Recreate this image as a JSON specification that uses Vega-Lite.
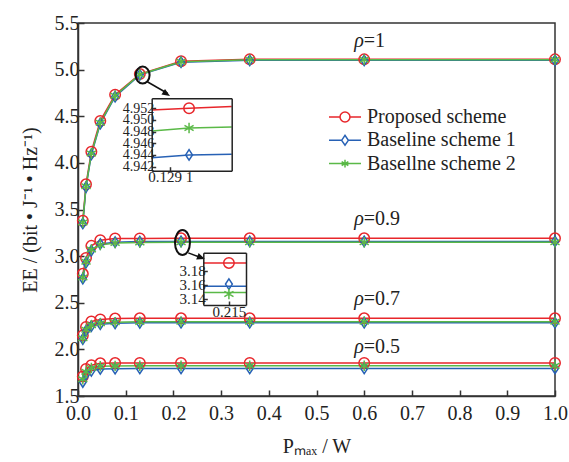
{
  "$schema": "https://vega.github.io/schema/vega-lite/v6.json",
  "width": 477,
  "height": 373,
  "autosize": {"type": "none"},
  "padding": {"left": 78, "top": 23, "right": 14, "bottom": 66},
  "background": "white",
  "config": {
    "font": "Liberation Serif",
    "view": {"stroke": "#333", "strokeWidth": 1.5},
    "axis": {
      "grid": false,
      "labelFont": "Liberation Serif",
      "titleFont": "Liberation Serif",
      "labelColor": "#222",
      "titleColor": "#222",
      "titleFontWeight": "normal",
      "domainColor": "#333",
      "tickColor": "#333",
      "domainWidth": 1.5,
      "tickWidth": 1.5
    }
  },
  "datasets": {
    "curves": [
      {"rho": "1", "s": "Proposed scheme", "x": 0.0101, "y": 3.38},
      {"rho": "1", "s": "Proposed scheme", "x": 0.0168, "y": 3.77},
      {"rho": "1", "s": "Proposed scheme", "x": 0.028, "y": 4.12},
      {"rho": "1", "s": "Proposed scheme", "x": 0.0467, "y": 4.45},
      {"rho": "1", "s": "Proposed scheme", "x": 0.0778, "y": 4.73},
      {"rho": "1", "s": "Proposed scheme", "x": 0.1296, "y": 4.952},
      {"rho": "1", "s": "Proposed scheme", "x": 0.216, "y": 5.09},
      {"rho": "1", "s": "Proposed scheme", "x": 0.36, "y": 5.11},
      {"rho": "1", "s": "Proposed scheme", "x": 0.6, "y": 5.11},
      {"rho": "1", "s": "Proposed scheme", "x": 1, "y": 5.11},
      {"rho": "0.9", "s": "Proposed scheme", "x": 0.0101, "y": 2.81},
      {"rho": "0.9", "s": "Proposed scheme", "x": 0.0168, "y": 2.98},
      {"rho": "0.9", "s": "Proposed scheme", "x": 0.028, "y": 3.11},
      {"rho": "0.9", "s": "Proposed scheme", "x": 0.0467, "y": 3.17},
      {"rho": "0.9", "s": "Proposed scheme", "x": 0.0778, "y": 3.19},
      {"rho": "0.9", "s": "Proposed scheme", "x": 0.1296, "y": 3.19},
      {"rho": "0.9", "s": "Proposed scheme", "x": 0.216, "y": 3.191},
      {"rho": "0.9", "s": "Proposed scheme", "x": 0.36, "y": 3.191},
      {"rho": "0.9", "s": "Proposed scheme", "x": 0.6, "y": 3.191},
      {"rho": "0.9", "s": "Proposed scheme", "x": 1, "y": 3.191},
      {"rho": "0.7", "s": "Proposed scheme", "x": 0.0101, "y": 2.15},
      {"rho": "0.7", "s": "Proposed scheme", "x": 0.0168, "y": 2.24},
      {"rho": "0.7", "s": "Proposed scheme", "x": 0.028, "y": 2.3},
      {"rho": "0.7", "s": "Proposed scheme", "x": 0.0467, "y": 2.32},
      {"rho": "0.7", "s": "Proposed scheme", "x": 0.0778, "y": 2.33},
      {"rho": "0.7", "s": "Proposed scheme", "x": 0.1296, "y": 2.333},
      {"rho": "0.7", "s": "Proposed scheme", "x": 0.216, "y": 2.333},
      {"rho": "0.7", "s": "Proposed scheme", "x": 0.36, "y": 2.333},
      {"rho": "0.7", "s": "Proposed scheme", "x": 0.6, "y": 2.333},
      {"rho": "0.7", "s": "Proposed scheme", "x": 1, "y": 2.333},
      {"rho": "0.5", "s": "Proposed scheme", "x": 0.0101, "y": 1.71},
      {"rho": "0.5", "s": "Proposed scheme", "x": 0.0168, "y": 1.79},
      {"rho": "0.5", "s": "Proposed scheme", "x": 0.028, "y": 1.83},
      {"rho": "0.5", "s": "Proposed scheme", "x": 0.0467, "y": 1.85},
      {"rho": "0.5", "s": "Proposed scheme", "x": 0.0778, "y": 1.853},
      {"rho": "0.5", "s": "Proposed scheme", "x": 0.1296, "y": 1.855},
      {"rho": "0.5", "s": "Proposed scheme", "x": 0.216, "y": 1.855},
      {"rho": "0.5", "s": "Proposed scheme", "x": 0.36, "y": 1.855},
      {"rho": "0.5", "s": "Proposed scheme", "x": 0.6, "y": 1.855},
      {"rho": "0.5", "s": "Proposed scheme", "x": 1, "y": 1.855},
      {"rho": "1", "s": "Baseline scheme 1", "x": 0.0101, "y": 3.35},
      {"rho": "1", "s": "Baseline scheme 1", "x": 0.0168, "y": 3.74},
      {"rho": "1", "s": "Baseline scheme 1", "x": 0.028, "y": 4.09},
      {"rho": "1", "s": "Baseline scheme 1", "x": 0.0467, "y": 4.42},
      {"rho": "1", "s": "Baseline scheme 1", "x": 0.0778, "y": 4.71},
      {"rho": "1", "s": "Baseline scheme 1", "x": 0.1296, "y": 4.944},
      {"rho": "1", "s": "Baseline scheme 1", "x": 0.216, "y": 5.08},
      {"rho": "1", "s": "Baseline scheme 1", "x": 0.36, "y": 5.1},
      {"rho": "1", "s": "Baseline scheme 1", "x": 0.6, "y": 5.1},
      {"rho": "1", "s": "Baseline scheme 1", "x": 1, "y": 5.1},
      {"rho": "0.9", "s": "Baseline scheme 1", "x": 0.0101, "y": 2.76},
      {"rho": "0.9", "s": "Baseline scheme 1", "x": 0.0168, "y": 2.93},
      {"rho": "0.9", "s": "Baseline scheme 1", "x": 0.028, "y": 3.06},
      {"rho": "0.9", "s": "Baseline scheme 1", "x": 0.0467, "y": 3.13},
      {"rho": "0.9", "s": "Baseline scheme 1", "x": 0.0778, "y": 3.15},
      {"rho": "0.9", "s": "Baseline scheme 1", "x": 0.1296, "y": 3.156},
      {"rho": "0.9", "s": "Baseline scheme 1", "x": 0.216, "y": 3.158},
      {"rho": "0.9", "s": "Baseline scheme 1", "x": 0.36, "y": 3.158},
      {"rho": "0.9", "s": "Baseline scheme 1", "x": 0.6, "y": 3.158},
      {"rho": "0.9", "s": "Baseline scheme 1", "x": 1, "y": 3.158},
      {"rho": "0.7", "s": "Baseline scheme 1", "x": 0.0101, "y": 2.11},
      {"rho": "0.7", "s": "Baseline scheme 1", "x": 0.0168, "y": 2.2},
      {"rho": "0.7", "s": "Baseline scheme 1", "x": 0.028, "y": 2.25},
      {"rho": "0.7", "s": "Baseline scheme 1", "x": 0.0467, "y": 2.27},
      {"rho": "0.7", "s": "Baseline scheme 1", "x": 0.0778, "y": 2.28},
      {"rho": "0.7", "s": "Baseline scheme 1", "x": 0.1296, "y": 2.285},
      {"rho": "0.7", "s": "Baseline scheme 1", "x": 0.216, "y": 2.286},
      {"rho": "0.7", "s": "Baseline scheme 1", "x": 0.36, "y": 2.286},
      {"rho": "0.7", "s": "Baseline scheme 1", "x": 0.6, "y": 2.286},
      {"rho": "0.7", "s": "Baseline scheme 1", "x": 1, "y": 2.286},
      {"rho": "0.5", "s": "Baseline scheme 1", "x": 0.0101, "y": 1.65},
      {"rho": "0.5", "s": "Baseline scheme 1", "x": 0.0168, "y": 1.73},
      {"rho": "0.5", "s": "Baseline scheme 1", "x": 0.028, "y": 1.77},
      {"rho": "0.5", "s": "Baseline scheme 1", "x": 0.0467, "y": 1.79},
      {"rho": "0.5", "s": "Baseline scheme 1", "x": 0.0778, "y": 1.793},
      {"rho": "0.5", "s": "Baseline scheme 1", "x": 0.1296, "y": 1.795},
      {"rho": "0.5", "s": "Baseline scheme 1", "x": 0.216, "y": 1.795},
      {"rho": "0.5", "s": "Baseline scheme 1", "x": 0.36, "y": 1.795},
      {"rho": "0.5", "s": "Baseline scheme 1", "x": 0.6, "y": 1.795},
      {"rho": "0.5", "s": "Baseline scheme 1", "x": 1, "y": 1.795},
      {"rho": "1", "s": "Basellne scheme 2", "x": 0.0101, "y": 3.36},
      {"rho": "1", "s": "Basellne scheme 2", "x": 0.0168, "y": 3.75},
      {"rho": "1", "s": "Basellne scheme 2", "x": 0.028, "y": 4.1},
      {"rho": "1", "s": "Basellne scheme 2", "x": 0.0467, "y": 4.43},
      {"rho": "1", "s": "Basellne scheme 2", "x": 0.0778, "y": 4.72},
      {"rho": "1", "s": "Basellne scheme 2", "x": 0.1296, "y": 4.948},
      {"rho": "1", "s": "Basellne scheme 2", "x": 0.216, "y": 5.085},
      {"rho": "1", "s": "Basellne scheme 2", "x": 0.36, "y": 5.105},
      {"rho": "1", "s": "Basellne scheme 2", "x": 0.6, "y": 5.105},
      {"rho": "1", "s": "Basellne scheme 2", "x": 1, "y": 5.105},
      {"rho": "0.9", "s": "Basellne scheme 2", "x": 0.0101, "y": 2.77},
      {"rho": "0.9", "s": "Basellne scheme 2", "x": 0.0168, "y": 2.94},
      {"rho": "0.9", "s": "Basellne scheme 2", "x": 0.028, "y": 3.07},
      {"rho": "0.9", "s": "Basellne scheme 2", "x": 0.0467, "y": 3.12},
      {"rho": "0.9", "s": "Basellne scheme 2", "x": 0.0778, "y": 3.14},
      {"rho": "0.9", "s": "Basellne scheme 2", "x": 0.1296, "y": 3.146},
      {"rho": "0.9", "s": "Basellne scheme 2", "x": 0.216, "y": 3.149},
      {"rho": "0.9", "s": "Basellne scheme 2", "x": 0.36, "y": 3.149},
      {"rho": "0.9", "s": "Basellne scheme 2", "x": 0.6, "y": 3.149},
      {"rho": "0.9", "s": "Basellne scheme 2", "x": 1, "y": 3.149},
      {"rho": "0.7", "s": "Basellne scheme 2", "x": 0.0101, "y": 2.12},
      {"rho": "0.7", "s": "Basellne scheme 2", "x": 0.0168, "y": 2.21},
      {"rho": "0.7", "s": "Basellne scheme 2", "x": 0.028, "y": 2.26},
      {"rho": "0.7", "s": "Basellne scheme 2", "x": 0.0467, "y": 2.28},
      {"rho": "0.7", "s": "Basellne scheme 2", "x": 0.0778, "y": 2.29},
      {"rho": "0.7", "s": "Basellne scheme 2", "x": 0.1296, "y": 2.295},
      {"rho": "0.7", "s": "Basellne scheme 2", "x": 0.216, "y": 2.296},
      {"rho": "0.7", "s": "Basellne scheme 2", "x": 0.36, "y": 2.296},
      {"rho": "0.7", "s": "Basellne scheme 2", "x": 0.6, "y": 2.296},
      {"rho": "0.7", "s": "Basellne scheme 2", "x": 1, "y": 2.296},
      {"rho": "0.5", "s": "Basellne scheme 2", "x": 0.0101, "y": 1.68},
      {"rho": "0.5", "s": "Basellne scheme 2", "x": 0.0168, "y": 1.76},
      {"rho": "0.5", "s": "Basellne scheme 2", "x": 0.028, "y": 1.8},
      {"rho": "0.5", "s": "Basellne scheme 2", "x": 0.0467, "y": 1.82},
      {"rho": "0.5", "s": "Basellne scheme 2", "x": 0.0778, "y": 1.823},
      {"rho": "0.5", "s": "Basellne scheme 2", "x": 0.1296, "y": 1.825},
      {"rho": "0.5", "s": "Basellne scheme 2", "x": 0.216, "y": 1.825},
      {"rho": "0.5", "s": "Basellne scheme 2", "x": 0.36, "y": 1.825},
      {"rho": "0.5", "s": "Basellne scheme 2", "x": 0.6, "y": 1.825},
      {"rho": "0.5", "s": "Basellne scheme 2", "x": 1, "y": 1.825}
    ],
    "rhoLabels": [
      {"x": 0.597, "y": 5.243, "t": "=1"},
      {"x": 0.597, "y": 3.333, "t": "=0.9"},
      {"x": 0.597, "y": 2.48, "t": "=0.7"},
      {"x": 0.597, "y": 1.96, "t": "=0.5"}
    ],
    "in1line": [
      {"s": "Proposed scheme", "x": 0.12861, "y": 4.9517},
      {"s": "Proposed scheme", "x": 0.1296, "y": 4.952},
      {"s": "Proposed scheme", "x": 0.13073, "y": 4.9523},
      {"s": "Baseline scheme 1", "x": 0.12861, "y": 4.9435},
      {"s": "Baseline scheme 1", "x": 0.1296, "y": 4.944},
      {"s": "Baseline scheme 1", "x": 0.13073, "y": 4.9441},
      {"s": "Basellne scheme 2", "x": 0.12861, "y": 4.9481},
      {"s": "Basellne scheme 2", "x": 0.1296, "y": 4.9486},
      {"s": "Basellne scheme 2", "x": 0.13073, "y": 4.9488}
    ],
    "in1pt": [
      {"s": "Proposed scheme", "x": 0.1296, "y": 4.952},
      {"s": "Baseline scheme 1", "x": 0.1296, "y": 4.944},
      {"s": "Basellne scheme 2", "x": 0.1296, "y": 4.9486}
    ],
    "in2line": [
      {"s": "Proposed scheme", "x": 0.2135, "y": 3.191},
      {"s": "Proposed scheme", "x": 0.215, "y": 3.191},
      {"s": "Proposed scheme", "x": 0.216, "y": 3.191},
      {"s": "Baseline scheme 1", "x": 0.2135, "y": 3.158},
      {"s": "Baseline scheme 1", "x": 0.215, "y": 3.158},
      {"s": "Baseline scheme 1", "x": 0.216, "y": 3.158},
      {"s": "Basellne scheme 2", "x": 0.2135, "y": 3.149},
      {"s": "Basellne scheme 2", "x": 0.215, "y": 3.149},
      {"s": "Basellne scheme 2", "x": 0.216, "y": 3.149}
    ],
    "in2pt": [
      {"s": "Proposed scheme", "x": 0.215, "y": 3.191},
      {"s": "Baseline scheme 1", "x": 0.215, "y": 3.161},
      {"s": "Basellne scheme 2", "x": 0.215, "y": 3.147}
    ]
  },
  "layer": [
    {
      "layer": [
        {
          "data": {"name": "curves"},
          "mark": {"type": "line", "strokeWidth": 1.5},
          "encoding": {
            "x": {
              "field": "x", "type": "quantitative",
              "scale": {"domain": [0, 1], "nice": false, "zero": false},
              "axis": {
                "values": [0, 0.1, 0.2, 0.3, 0.4, 0.5, 0.6, 0.7, 0.8, 0.9, 1],
                "format": ".1f", "tickSize": -6, "labelFontSize": 20, "labelPadding": 13,
                "labelFlush": false, "title": "Pₘₐₓ / W", "titleFontSize": 20, "titlePadding": 13
              }
            },
            "y": {
              "field": "y", "type": "quantitative",
              "scale": {"domain": [1.5, 5.5], "nice": false, "zero": false},
              "axis": {
                "values": [1.5, 2, 2.5, 3, 3.5, 4, 4.5, 5, 5.5],
                "format": ".1f", "tickSize": -6, "labelFontSize": 20, "labelPadding": 5,
                "labelFlush": false, "title": "EE / (bit • J⁻¹ • Hz⁻¹)", "titleFontSize": 20, "titlePadding": 14
              }
            },
            "color": {
              "field": "s", "type": "nominal",
              "scale": {
                "domain": ["Proposed scheme", "Baseline scheme 1", "Basellne scheme 2"],
                "range": ["#e8262b", "#2761b5", "#5ab947"]
              },
              "legend": null
            },
            "detail": {"field": "rho"},
            "order": {"field": "x", "type": "quantitative"}
          }
        },
        {
          "data": {"name": "curves"},
          "mark": {"type": "point", "filled": false, "size": 110, "strokeWidth": 1.5, "opacity": 1},
          "encoding": {
            "x": {"field": "x", "type": "quantitative"},
            "y": {"field": "y", "type": "quantitative"},
            "color": {"field": "s", "type": "nominal", "legend": null},
            "shape": {
              "field": "s", "type": "nominal",
              "scale": {
                "domain": ["Proposed scheme", "Baseline scheme 1", "Basellne scheme 2"],
                "range": ["circle", "M0,-1L0.65,0L0,1L-0.65,0Z", "M0,-1L0,1M-0.87,-0.5L0.87,0.5M-0.87,0.5L0.87,-0.5"]
              },
              "legend": null
            }
          }
        },
        {
          "data": {"values": [{"x": 0.1355, "y": 4.942}]},
          "mark": {"type": "point", "filled": false, "shape": "M0.82,0A0.82,1,0,1,1,-0.82,0A0.82,1,0,1,1,0.82,0Z", "size": 289, "stroke": "#111", "strokeWidth": 2, "opacity": 1},
          "encoding": {
            "x": {"field": "x", "type": "quantitative"},
            "y": {"field": "y", "type": "quantitative"}
          }
        },
        {
          "data": {"values": [{"x": 0.219, "y": 3.145}]},
          "mark": {"type": "point", "filled": false, "shape": "M0.6,0A0.6,1,0,1,1,-0.6,0A0.6,1,0,1,1,0.6,0Z", "size": 625, "stroke": "#111", "strokeWidth": 2, "opacity": 1},
          "encoding": {
            "x": {"field": "x", "type": "quantitative"},
            "y": {"field": "y", "type": "quantitative"}
          }
        },
        {
          "data": {"values": [
            {"x": 0.1453, "y": 4.87, "x2": 0.188, "y2": 4.744},
            {"x": 0.2312, "y": 3.035, "x2": 0.26, "y2": 2.98}
          ]},
          "mark": {"type": "rule", "stroke": "#111", "strokeWidth": 1.5},
          "encoding": {
            "x": {"field": "x", "type": "quantitative"},
            "y": {"field": "y", "type": "quantitative"},
            "x2": {"field": "x2"},
            "y2": {"field": "y2"}
          }
        },
        {
          "data": {"values": [{"x": 0.1929, "y": 4.717}]},
          "mark": {"type": "point", "filled": true, "shape": "M0,0L-1,-0.42L-1,0.42Z", "size": 256, "angle": 32, "color": "#111", "opacity": 1},
          "encoding": {
            "x": {"field": "x", "type": "quantitative"},
            "y": {"field": "y", "type": "quantitative"}
          }
        },
        {
          "data": {"values": [{"x": 0.266, "y": 2.968}]},
          "mark": {"type": "point", "filled": true, "shape": "M0,0L-1,-0.42L-1,0.42Z", "size": 256, "angle": 21, "color": "#111", "opacity": 1},
          "encoding": {
            "x": {"field": "x", "type": "quantitative"},
            "y": {"field": "y", "type": "quantitative"}
          }
        },
        {
          "data": {"name": "rhoLabels"},
          "mark": {"type": "text", "text": "ρ", "align": "right", "baseline": "alphabetic", "fontStyle": "italic", "fontSize": 20, "font": "Liberation Serif", "color": "#222", "dx": 1},
          "encoding": {
            "x": {"field": "x", "type": "quantitative"},
            "y": {"field": "y", "type": "quantitative"}
          }
        },
        {
          "data": {"name": "rhoLabels"},
          "mark": {"type": "text", "align": "left", "baseline": "alphabetic", "fontSize": 20, "font": "Liberation Serif", "color": "#222", "dx": 1},
          "encoding": {
            "x": {"field": "x", "type": "quantitative"},
            "y": {"field": "y", "type": "quantitative"},
            "text": {"field": "t"}
          }
        }
      ]
    },
    {
      "layer": [
        {
          "data": {"name": "in1line"},
          "mark": {"type": "line", "strokeWidth": 1.5},
          "encoding": {
            "x": {
              "field": "x", "type": "quantitative",
              "scale": {"domain": [0.12861, 0.13073], "range": [73.7, 153.7], "nice": false, "zero": false},
              "axis": {"orient": "bottom", "offset": -225.3, "values": [0.1291], "labelExpr": "'0.129 1'", "tickSize": -4, "domainColor": "#222", "labelFontSize": 15, "labelPadding": 3, "title": null, "zindex": 1}
            },
            "y": {
              "field": "y", "type": "quantitative",
              "scale": {"domain": [4.9413, 4.9537], "range": [147.7, 75.3], "nice": false, "zero": false},
              "axis": {"orient": "left", "offset": -73.7, "values": [4.942, 4.944, 4.946, 4.948, 4.95, 4.952], "format": ".3f", "tickSize": -4, "domainColor": "#222", "labelFontSize": 14, "labelPadding": 2, "labelOverlap": false, "labelFlush": false, "title": null, "zindex": 1}
            },
            "color": {
              "field": "s", "type": "nominal",
              "scale": {
                "domain": ["Proposed scheme", "Baseline scheme 1", "Basellne scheme 2"],
                "range": ["#e8262b", "#2761b5", "#5ab947"]
              },
              "legend": null
            }
          }
        },
        {
          "data": {"name": "in1pt"},
          "mark": {"type": "point", "filled": false, "size": 110, "strokeWidth": 1.5, "opacity": 1},
          "encoding": {
            "x": {"field": "x", "type": "quantitative", "axis": {"orient": "top", "offset": -75.3, "labels": false, "ticks": false, "domainColor": "#222", "title": null, "zindex": 1}},
            "y": {"field": "y", "type": "quantitative", "axis": {"orient": "right", "offset": -323.3, "labels": false, "ticks": false, "domainColor": "#222", "title": null, "zindex": 1}},
            "color": {"field": "s", "type": "nominal", "legend": null},
            "shape": {
              "field": "s", "type": "nominal",
              "scale": {
                "domain": ["Proposed scheme", "Baseline scheme 1", "Basellne scheme 2"],
                "range": ["circle", "M0,-1L0.65,0L0,1L-0.65,0Z", "M0,-1L0,1M-0.87,-0.5L0.87,0.5M-0.87,0.5L0.87,-0.5"]
              },
              "legend": null
            }
          }
        }
      ],
      "resolve": {"axis": {"x": "independent", "y": "independent"}}
    },
    {
      "layer": [
        {
          "data": {"name": "in2line"},
          "mark": {"type": "line", "strokeWidth": 1.5},
          "encoding": {
            "x": {
              "field": "x", "type": "quantitative",
              "scale": {"domain": [0.2135, 0.216], "range": [125.3, 168], "nice": false, "zero": false},
              "axis": {"orient": "bottom", "offset": -91, "values": [0.215], "format": ".3f", "tickSize": -4, "domainColor": "#222", "labelFontSize": 15, "labelPadding": 3, "title": null, "zindex": 1}
            },
            "y": {
              "field": "y", "type": "quantitative",
              "scale": {"domain": [3.1315, 3.2054], "range": [282, 229.7], "nice": false, "zero": false},
              "axis": {"orient": "left", "offset": -125.3, "values": [3.14, 3.16, 3.18], "format": ".2f", "tickSize": -4, "domainColor": "#222", "labelFontSize": 15, "labelPadding": 2, "labelOverlap": false, "labelFlush": false, "title": null, "zindex": 1}
            },
            "color": {
              "field": "s", "type": "nominal",
              "scale": {
                "domain": ["Proposed scheme", "Baseline scheme 1", "Basellne scheme 2"],
                "range": ["#e8262b", "#2761b5", "#5ab947"]
              },
              "legend": null
            }
          }
        },
        {
          "data": {"name": "in2pt"},
          "mark": {"type": "point", "filled": false, "size": 110, "strokeWidth": 1.5, "opacity": 1},
          "encoding": {
            "x": {"field": "x", "type": "quantitative", "axis": {"orient": "top", "offset": -229.7, "labels": false, "ticks": false, "domainColor": "#222", "title": null, "zindex": 1}},
            "y": {"field": "y", "type": "quantitative", "axis": {"orient": "right", "offset": -309, "labels": false, "ticks": false, "domainColor": "#222", "title": null, "zindex": 1}},
            "color": {"field": "s", "type": "nominal", "legend": null},
            "shape": {
              "field": "s", "type": "nominal",
              "scale": {
                "domain": ["Proposed scheme", "Baseline scheme 1", "Basellne scheme 2"],
                "range": ["circle", "M0,-1L0.65,0L0,1L-0.65,0Z", "M0,-1L0,1M-0.87,-0.5L0.87,0.5M-0.87,0.5L0.87,-0.5"]
              },
              "legend": null
            }
          }
        }
      ],
      "resolve": {"axis": {"x": "independent", "y": "independent"}}
    },
    {
      "data": {"values": []},
      "mark": {"type": "point", "filled": false, "strokeWidth": 1.5, "opacity": 1},
      "encoding": {
        "color": {
          "field": "s", "type": "nominal",
          "scale": {
            "domain": ["Proposed scheme", "Baseline scheme 1", "Basellne scheme 2"],
            "range": ["#e8262b", "#2761b5", "#5ab947"]
          },
          "legend": {
            "orient": "none", "legendX": 250, "legendY": 84, "title": null,
            "labelFontSize": 20, "labelFont": "Liberation Serif", "labelColor": "#222",
            "symbolSize": 1024, "symbolStrokeWidth": 1.5, "clipHeight": 20, "rowPadding": 3.3,
            "labelOffset": 5
          }
        },
        "shape": {
          "field": "s", "type": "nominal",
          "scale": {
            "domain": ["Proposed scheme", "Baseline scheme 1", "Basellne scheme 2"],
            "range": [
              "M-1,0L-0.31,0M0.31,0A0.31,0.31,0,1,1,-0.31,0A0.31,0.31,0,1,1,0.31,0M0.31,0L1,0",
              "M-1,0L-0.21,0L0,-0.31L0.21,0L0,0.31L-0.21,0M0.21,0L1,0",
              "M-1,0L1,0M0,-0.24L0,0.24M-0.21,-0.12L0.21,0.12M-0.21,0.12L0.21,-0.12"
            ]
          },
          "legend": {
            "orient": "none", "legendX": 250, "legendY": 84, "title": null,
            "labelFontSize": 20, "labelFont": "Liberation Serif", "labelColor": "#222",
            "symbolSize": 1024, "symbolStrokeWidth": 1.5, "clipHeight": 20, "rowPadding": 3.3,
            "labelOffset": 5
          }
        }
      }
    }
  ],
  "resolve": {"scale": {"x": "independent", "y": "independent", "shape": "independent", "color": "independent"}}
}
